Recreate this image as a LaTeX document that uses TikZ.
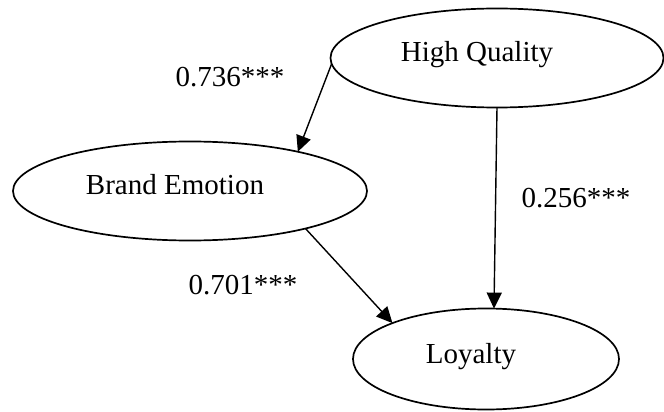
\documentclass[tikz,border=0pt]{standalone}
\usepackage{fontspec}
\setmainfont{Liberation Serif}
\usetikzlibrary{shapes.geometric,arrows.meta}
\begin{document}
\begin{tikzpicture}[x=1pt,y=-1pt,
  oval/.style={ellipse,draw,line width=1.7pt,inner sep=0pt,outer sep=0pt},
  lbl/.style={anchor=base,inner sep=0pt,font=\fontsize{29}{34}\selectfont},
  path/.style={line width=1.4pt,-{Triangle[length=16pt,width=15pt]}}]
\useasboundingbox (0,0) rectangle (664,412);
\node[oval,minimum width=333pt,minimum height=99pt] (hq) at (497,58) {};
\node[oval,minimum width=354pt,minimum height=99pt] (be) at (190,191) {};
\node[oval,minimum width=266pt,minimum height=101pt] (lo) at (486,359) {};
\node[lbl] (thq) at (477,62) {High Quality};
\node[lbl] (tbe) at (175,194) {Brand Emotion};
\node[lbl] (tlo) at (471,363) {Loyalty};
\node[lbl] (l1) at (230,87) {0.736***};
\node[lbl] (l2) at (576,207) {0.256***};
\node[lbl] (l3) at (243,294) {0.701***};
\draw[path] (hq.182) -- (be.20);
\draw[path] (be.-18) -- (lo.159);
\draw[path] (hq.south) -- (lo.81);
\end{tikzpicture}
\end{document}
